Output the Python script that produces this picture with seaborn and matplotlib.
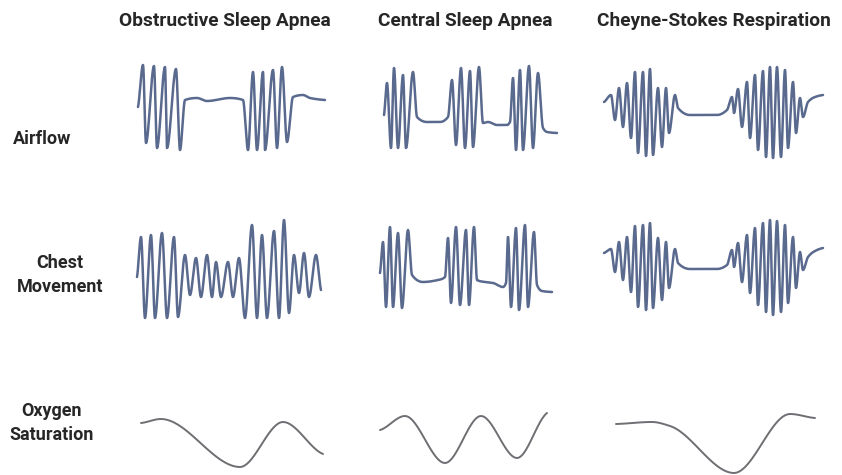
import numpy as np
import pandas as pd
import matplotlib
matplotlib.use("Agg")
import matplotlib.pyplot as plt
import seaborn as sns

#%%
# Panel titles and row labels

columns = ['Obstructive Sleep Apnea', 'Central Sleep Apnea', 'Cheyne-Stokes Respiration']
rows = ['Airflow', 'Chest\nMovement', 'Oxygen\nSaturation']

#%%
# Turning points of every trace (x = time, y = level)

osa_air_x = [138, 143, 146, 154, 157, 165, 167, 176, 180, 185, 197, 207, 230, 243,
             248, 253, 257, 263, 265, 273, 277, 282, 287, 293, 303, 310, 325]
osa_air_y = [107, 65, 143, 66, 148, 67, 148, 69, 150, 100, 98, 101, 98, 100,
             150, 72, 150, 72, 150, 70, 148, 67, 142, 97, 95, 98, 100]

csa_air_x = [384, 387, 391, 394, 398, 403, 406, 413, 417, 427, 440, 448, 452, 456,
             461, 465, 470, 473, 479, 483, 488, 497, 507, 510, 513, 516, 520, 523,
             529, 533, 538, 543, 547, 557]
csa_air_y = [115, 83, 148, 68, 148, 75, 148, 72, 117, 122, 122, 117, 80, 145,
             68, 148, 71, 147, 67, 123, 122, 125, 125, 122, 78, 150, 70, 150,
             66, 148, 73, 128, 132, 133]

csr_air_x = [604, 611, 615, 619, 623, 627, 631, 635, 638, 643, 646, 650, 653, 658,
             662, 666, 669, 675, 678, 690, 717, 727, 732, 734, 738, 742, 747, 750,
             755, 758, 763, 766, 770, 773, 777, 781, 785, 788, 793, 796, 800, 803,
             808, 815, 823]
csr_air_y = [102, 95, 120, 88, 127, 83, 138, 72, 153, 72, 156, 69, 155, 88,
             147, 88, 133, 95, 108, 115, 115, 110, 97, 113, 89, 127, 82, 138,
             75, 150, 71, 157, 67, 158, 67, 157, 70, 148, 82, 133, 98, 117,
             102, 97, 95]

osa_chest_x = [137, 141, 145, 151, 155, 162, 167, 174, 178, 185, 190, 196, 201, 207,
               212, 216, 221, 228, 233, 239, 245, 252, 257, 262, 267, 274, 279, 284,
               289, 294, 299, 304, 309, 316, 321]
osa_chest_y = [277, 237, 318, 235, 318, 233, 318, 237, 317, 255, 295, 258, 297, 255,
               297, 262, 297, 262, 297, 258, 318, 225, 318, 235, 318, 231, 318, 220,
               313, 255, 293, 253, 297, 255, 290]

csa_chest_x = [380, 383, 386, 390, 393, 398, 402, 408, 412, 423, 438, 445, 448, 451,
               456, 460, 466, 469, 474, 477, 485, 493, 503, 506, 508, 511, 516, 519,
               525, 528, 534, 537, 542, 552]
csa_chest_y = [273, 242, 307, 227, 307, 233, 308, 230, 275, 282, 280, 277, 238, 303,
               227, 305, 230, 305, 227, 280, 282, 283, 287, 283, 237, 307, 228, 310,
               225, 307, 232, 285, 291, 292]

csr_chest_x = csr_air_x
csr_chest_y = [253, 249, 272, 242, 280, 237, 292, 226, 307, 225, 310, 223, 308, 238,
               300, 242, 288, 249, 263, 269, 269, 265, 250, 267, 243, 282, 235, 293,
               228, 305, 223, 312, 220, 315, 221, 312, 225, 303, 237, 288, 252, 270,
               257, 251, 248]

osa_o2_x = [141, 161, 240, 283, 323]
osa_o2_y = [423, 419, 467, 422, 454]

csa_o2_x = [380, 405, 445, 481, 517, 547]
csa_o2_y = [430, 416, 463, 416, 458, 413]

csr_o2_x = [616, 652, 670, 734, 790, 815]
csr_o2_y = [424, 422, 426, 473, 414, 418]

#%%
# draw a smooth stroke through the turning points (shape-preserving cubic,
# flat at every peak and trough)

def breath_curve(xs, ys, n=24):
    x = np.asarray(xs, float)
    y = np.asarray(ys, float)
    h = np.diff(x)
    d = np.diff(y) / h
    m = np.zeros_like(y)
    for k in range(1, len(y) - 1):
        if d[k - 1] * d[k] > 0:
            w1 = 2 * h[k] + h[k - 1]
            w2 = h[k] + 2 * h[k - 1]
            m[k] = (w1 + w2) / (w1 / d[k - 1] + w2 / d[k])
    m[0] = d[0] * 0.5
    m[-1] = d[-1] * 0.5
    out_x, out_y = [], []
    for k in range(len(x) - 1):
        t = np.linspace(0, 1, n, endpoint=False)
        h00 = 2 * t**3 - 3 * t**2 + 1
        h10 = t**3 - 2 * t**2 + t
        h01 = -2 * t**3 + 3 * t**2
        h11 = t**3 - t**2
        out_x.extend(x[k] + h[k] * t)
        out_y.extend(h00 * y[k] + h10 * h[k] * m[k] + h01 * y[k + 1] + h11 * h[k] * m[k + 1])
    out_x.append(x[-1])
    out_y.append(y[-1])
    return np.array(out_x), np.array(out_y)

traces = [
    ('osa_air', osa_air_x, osa_air_y, 'wave'),
    ('csa_air', csa_air_x, csa_air_y, 'wave'),
    ('csr_air', csr_air_x, csr_air_y, 'wave'),
    ('osa_chest', osa_chest_x, osa_chest_y, 'wave'),
    ('csa_chest', csa_chest_x, csa_chest_y, 'wave'),
    ('csr_chest', csr_chest_x, csr_chest_y, 'wave'),
    ('osa_o2', osa_o2_x, osa_o2_y, 'o2'),
    ('csa_o2', csa_o2_x, csa_o2_y, 'o2'),
    ('csr_o2', csr_o2_x, csr_o2_y, 'o2'),
]

frames = []
for name, xs, ys, kind in traces:
    cx, cy = breath_curve(xs, ys)
    frames.append(pd.DataFrame({'t': cx, 'level': cy, 'trace': name, 'kind': kind}))
df = pd.concat(frames, ignore_index=True)

#%%

sns.set_style('white')
plt.rcParams['font.family'] = ['Roboto', 'DejaVu Sans']

fig = plt.figure(figsize=(8.42, 4.75), dpi=100)
ax = fig.add_axes([0, 0, 1, 1])

colors = {'wave': '#5a6a8e', 'o2': '#6e6e73'}
for name, grp in df.groupby('trace', sort=False):
    kind = grp['kind'].iloc[0]
    sns.lineplot(data=grp, x='t', y='level', sort=False, estimator=None,
                 color=colors[kind], lw=1.8 if kind == 'wave' else 1.4, ax=ax)

title_x = [225, 465, 714]
for lab, x in zip(columns, title_x):
    ax.text(x, 21, lab, ha='center', va='center', fontsize=13.8, fontweight='bold')

row_pos = [(42, 139), (60, 275), (52, 423)]
for lab, (x, y) in zip(rows, row_pos):
    ax.text(x, y, lab, ha='center', va='center', fontsize=13, fontweight='bold',
            linespacing=1.45)

ax.set_xlim(0, 842)
ax.set_ylim(475, 0)
ax.axis('off')

fig.savefig('out.png', dpi=100)
